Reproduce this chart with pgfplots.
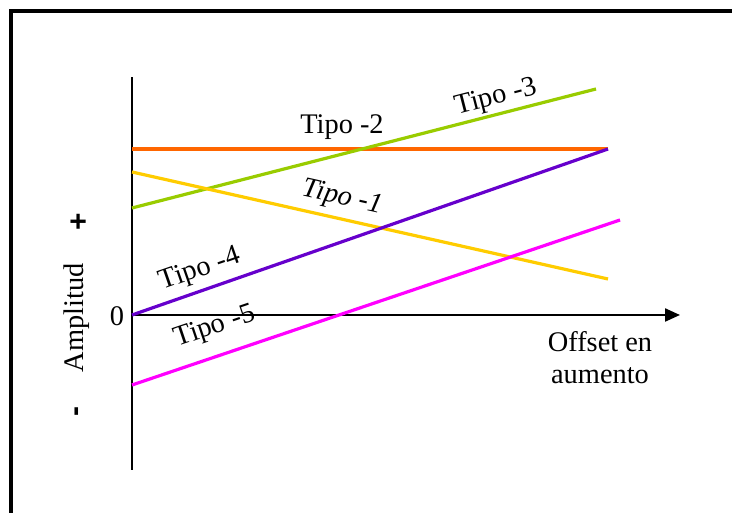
\documentclass[border=0pt]{standalone}
\usepackage{fontspec}
\setmainfont{Liberation Serif}
\newfontfamily\signfont{Liberation Sans}
\usepackage{pgfplots}
\pgfplotsset{compat=1.18}
\usetikzlibrary{arrows.meta}

\definecolor{tipoA}{HTML}{FFCC00}
\definecolor{tipoB}{HTML}{FF6600}
\definecolor{tipoC}{HTML}{99CC00}
\definecolor{tipoD}{HTML}{6600CC}
\definecolor{tipoE}{HTML}{FF00FF}

\begin{document}
\begin{tikzpicture}[x=1bp,y=1bp]
\useasboundingbox (0,0) rectangle (732,513);
% open frame (top and left edges)
\draw[line width=3.6bp] (11,-10) -- (11,502) -- (745,502);
\begin{axis}[
  at={(132bp,43bp)}, anchor=south west,
  scale only axis, width=548bp, height=393bp,
  xmin=0, xmax=548, ymin=-155, ymax=238,
  axis x line=middle, axis y line=left,
  xtick=\empty, ytick=\empty,
  axis line style={line width=2.2bp, black},
  x axis line style={-{Triangle[length=15bp,width=13bp]}},
  y axis line style={-},
  clip=false,
  every axis plot/.append style={line width=3.2bp},
  font=\fontsize{28.5}{32}\selectfont,
]
% Tipo -2
\addplot[tipoB] coordinates {(0,166) (476,166)};
% Tipo -3
\addplot[tipoC] coordinates {(0,107) (464,226)};
% Tipo -1
\addplot[tipoA] coordinates {(0,143) (476,36)};
% Tipo -4
\addplot[tipoD] coordinates {(0,0) (476,166)};
% Tipo -5
\addplot[tipoE] coordinates {(0,-70) (488,95)};

\node at (axis cs:210,188) {Tipo -2};
\node[rotate=14.4] at (axis cs:364,217) {Tipo -3};
\node[rotate=-12.7] at (axis cs:210,117) {\itshape Tipo -1};
\node[rotate=19.2] at (axis cs:68,45) {Tipo -4};
\node[rotate=18.7] at (axis cs:83,-12) {Tipo -5};
\node at (axis cs:-15,-1) {0};
\node[align=center] at (axis cs:468,-43) {Offset en\\aumento};
\node[rotate=90] at (axis cs:-55,-3) {Amplitud};
\node[rotate=90] at (axis cs:-52,93) {\signfont\bfseries\fontsize{30}{32}\selectfont +};
\node[rotate=90] at (axis cs:-52,-97) {\signfont\bfseries\fontsize{30}{32}\selectfont -};
\end{axis}
\end{tikzpicture}
\end{document}
